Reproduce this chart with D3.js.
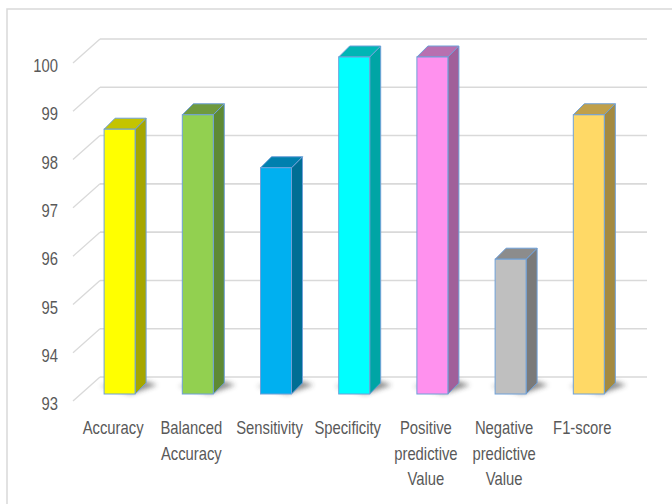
<!DOCTYPE html>
<html><head><meta charset="utf-8">
<script src="https://cdn.jsdelivr.net/npm/d3@7"></script>
<style>html,body{margin:0;padding:0;background:#fff;}svg{display:block;}</style>
</head><body>
<svg id="chart" width="672" height="504"></svg>
<script>
const categories = ["Accuracy", "Balanced\nAccuracy", "Sensitivity", "Specificity", "Positive\npredictive\nValue", "Negative\npredictive\nValue", "F1-score"];
const values = [98.5, 98.8, 97.7, 100, 100, 95.8, 98.8];
const yTicks = [93, 94, 95, 96, 97, 98, 99, 100];
const frontColors = ["#FFFF00", "#92D050", "#00B0F0", "#00FFFF", "#FF91EE", "#BFBFBF", "#FFD966"];
const sideColors  = ["#A6A600", "#5E8A34", "#006E94", "#00A5A5", "#A0609A", "#7A7A7A", "#A48A40"];
const topColors   = ["#C4C400", "#6F9A3E", "#0080AE", "#00B5B5", "#B870B0", "#8C8C8C", "#C0A04A"];

const svg = d3.select("#chart");
const defs = svg.append("defs");
defs.append("filter").attr("id","blur").attr("x","-50%").attr("y","-50%").attr("width","200%").attr("height","200%")
  .append("feGaussianBlur").attr("stdDeviation", 2.5);

// outer frame
svg.append("rect").attr("x",7).attr("y",9).attr("width",700).attr("height",520)
  .attr("fill","none").attr("stroke","#D9D9D9").attr("stroke-width",1.5);

const backX0 = 100, backX1 = 647, depthX = 27, depthY = 24;
const yBack = d3.scaleLinear().domain([93,100]).range([377,39]);
const yBar = d3.scaleLinear().domain([93,100]).range([394,57]);
const x = d3.scaleBand().domain(categories).range([74, 74 + 7*78.2]).padding(0);

// gridlines
const grid = svg.append("g");
yTicks.forEach(t => {
  grid.append("line").attr("x1",backX0).attr("x2",backX1).attr("y1",yBack(t)).attr("y2",yBack(t))
    .attr("stroke","#D9D9D9").attr("stroke-width",1.6);
  grid.append("line").attr("x1",backX0-depthX).attr("x2",backX0).attr("y1",yBack(t)+depthY).attr("y2",yBack(t))
    .attr("stroke","#D9D9D9").attr("stroke-width",1.3);
});

// y tick labels
const sx = 0.8;
yTicks.forEach(t => {
  svg.append("g").attr("transform",`translate(58,${yBack(t)+depthY+3}) scale(${sx},1)`)
    .append("text").attr("text-anchor","end").attr("dominant-baseline","central")
    .attr("font-family","Liberation Sans, Arial, sans-serif").attr("font-size",18.5).attr("fill","#595959")
    .text(t);
});

const bw = 31, dx = 11, dy = -11;
const bars = svg.append("g");
categories.forEach((c,i) => {
  const x0 = x(c) + x.bandwidth()/2 - 9;
  const yt = yBar(values[i]), yb = yBar(93);
  const g = bars.append("g");
  // shadow
  g.append("path").attr("d", `M${x0+bw-4},${yb} L${x0+bw+22},${yb-9} L${x0+bw+10},${yb-13} L${x0-4},${yb-8} Z`)
    .attr("fill","#333").attr("opacity",0.55).attr("filter","url(#blur)");
  const stroke = "#6FA0D8";
  g.append("path").attr("d", `M${x0+bw},${yt} L${x0+bw+dx},${yt+dy} L${x0+bw+dx},${yb+dy} L${x0+bw},${yb} Z`)
    .attr("fill", sideColors[i]).attr("stroke",stroke).attr("stroke-width",1).attr("stroke-linejoin","round");
  g.append("path").attr("d", `M${x0},${yt} L${x0+dx},${yt+dy} L${x0+bw+dx},${yt+dy} L${x0+bw},${yt} Z`)
    .attr("fill", topColors[i]).attr("stroke",stroke).attr("stroke-width",1).attr("stroke-linejoin","round");
  g.append("rect").attr("x",x0).attr("y",yt).attr("width",bw).attr("height",yb-yt)
    .attr("fill", frontColors[i]).attr("stroke",stroke).attr("stroke-width",1);
});

// x labels
categories.forEach((c,i) => {
  const cx = x(c) + x.bandwidth()/2;
  c.split("\n").forEach((line,j) => {
    svg.append("g").attr("transform",`translate(${cx},${428 + j*25.5}) scale(${sx},1)`)
      .append("text").attr("text-anchor","middle").attr("dominant-baseline","central")
      .attr("font-family","Liberation Sans, Arial, sans-serif").attr("font-size",18.5).attr("fill","#595959")
      .text(line);
  });
});
</script>
</body></html>
